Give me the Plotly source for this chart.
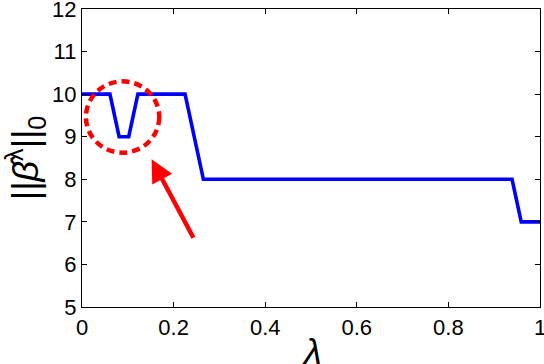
import plotly.graph_objects as go

# Data
lam = [0.0, 0.061, 0.081, 0.102, 0.122, 0.225, 0.265, 0.939, 0.959, 1.0]
nnz = [10, 10, 9, 9, 10, 10, 8, 8, 7, 7]

x_ticks = [0, 0.2, 0.4, 0.6, 0.8, 1]
x_ticktext = ["0", "0.2", "0.4", "0.6", "0.8", "1"]
y_ticks = [5, 6, 7, 8, 9, 10, 11, 12]

# Highlight circle (data coords) and arrow
circle_x = [0.0086, 0.1686]
circle_y = [8.625, 10.30]
arrow_tail = (0.245, 6.59)
arrow_head = (0.152, 8.47)

FONT = "Liberation Sans, Arial, Helvetica, sans-serif"

fig = go.Figure()
fig.add_trace(go.Scatter(x=lam, y=nnz, mode="lines",
                         line=dict(color="#0000ff", width=3.6),
                         showlegend=False, hoverinfo="skip"))

fig.add_shape(type="circle", xref="x", yref="y",
              x0=circle_x[0], x1=circle_x[1], y0=circle_y[0], y1=circle_y[1],
              line=dict(color="#ff0000", width=4.5, dash="8px,5px"))

fig.add_annotation(x=arrow_head[0], y=arrow_head[1], ax=arrow_tail[0], ay=arrow_tail[1],
                   xref="x", yref="y", axref="x", ayref="y", text="",
                   showarrow=True, arrowhead=2, arrowsize=1, arrowwidth=4.5,
                   arrowcolor="#ff0000")

# Axis titles as annotations for precise placement
fig.add_annotation(text="<i>λ</i>", xref="paper", yref="paper", x=0.502, y=-0.148,
                   xanchor="center", yanchor="middle", showarrow=False,
                   font=dict(family=FONT, size=36, color="black"))
fig.add_annotation(text="||<i>β̂</i><sup>λ</sup>||<sub>0</sub>", xref="paper", yref="paper",
                   x=-0.124, y=0.5, xanchor="center", yanchor="middle", textangle=-90,
                   showarrow=False, font=dict(family=FONT, size=36, color="black"))

axis_common = dict(showgrid=False, zeroline=False, showline=True, linecolor="black",
                   linewidth=1.3, mirror="ticks", ticks="inside", ticklen=5,
                   tickcolor="black", tickwidth=1, automargin=False,
                   ticklabeloverflow="allow",
                   tickfont=dict(family=FONT, size=22, color="black"))

fig.update_xaxes(range=[0, 1], tickvals=x_ticks, ticktext=x_ticktext, **axis_common)
fig.update_yaxes(range=[5, 12], tickvals=y_ticks, **axis_common)

fig.update_layout(width=544, height=364, plot_bgcolor="white", paper_bgcolor="white",
                  margin=dict(l=82, r=4, t=9, b=57),
                  font=dict(family=FONT, color="black"))

fig.write_html("out.html", config={"displayModeBar": False},
               post_script="document.body.style.margin='0';")
